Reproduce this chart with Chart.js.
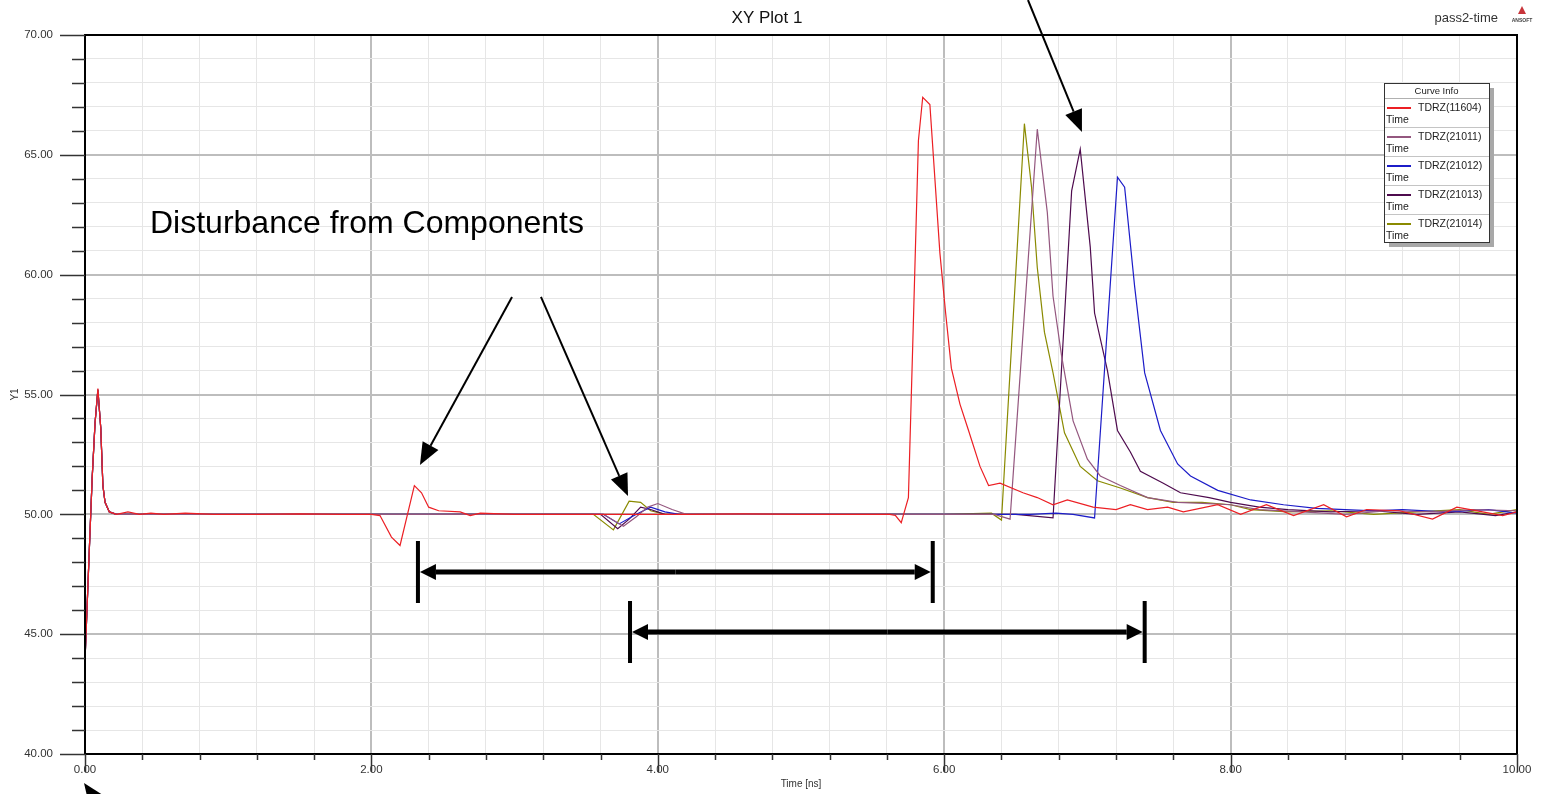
<!DOCTYPE html>
<html>
<head>
<meta charset="utf-8">
<title>XY Plot 1</title>
<script src="https://cdn.jsdelivr.net/npm/chart.js@4.4.1/dist/chart.umd.min.js"></script>
<style>
    html, body { margin: 0; padding: 0; background: #fff; }
    #wrap { position: relative; width: 1544px; height: 794px; }
</style>
</head>
<body>
<div id="wrap"><canvas id="myChart" width="1544" height="794"></canvas></div>
<script>
// curve names as in the "Curve Info" box
var curveNames = ['TDRZ(11604)', 'TDRZ(21011)', 'TDRZ(21012)', 'TDRZ(21013)', 'TDRZ(21014)'];
var curveColors = ['#ec1f24', '#94577f', '#1c1cc8', '#4e0b4e', '#8a8a00'];

// labelled ticks
var xLabelTicks = [0, 2, 4, 6, 8, 10];
var yLabelTicks = [40, 45, 50, 55, 60, 65, 70];

// TDRZ(11604) - red
var time11604 = [0, 0.03, 0.05, 0.07, 0.09, 0.11, 0.125, 0.14, 0.17, 0.22, 0.30, 0.38, 0.46, 0.55, 0.70, 0.90, 1.20, 1.50, 1.80, 2.00,
    2.06, 2.14, 2.20, 2.30, 2.35, 2.40, 2.47, 2.62, 2.69, 2.76, 3.00, 3.40, 3.80, 4.20, 4.60, 5.00, 5.30, 5.50, 5.62, 5.66,
    5.70, 5.75, 5.78, 5.82, 5.85, 5.90, 5.97, 6.01, 6.05, 6.11, 6.17, 6.25, 6.31, 6.39, 6.55, 6.65, 6.76, 6.86, 7.04, 7.20,
    7.30, 7.42, 7.56, 7.67, 7.91, 8.07, 8.25, 8.44, 8.65, 8.81, 8.95, 9.18, 9.41, 9.58, 9.76, 9.90, 10.00];
var tdrz11604 = [43.9, 48.5, 51.5, 53.8, 55.25, 53.6, 51.2, 50.5, 50.1, 50.0, 50.1, 50.0, 50.05, 50.0, 50.05, 50.0, 50.0, 50.02, 50.0, 50.0,
    49.95, 49.05, 48.7, 51.2, 50.9, 50.3, 50.15, 50.1, 49.95, 50.05, 50.0, 50.0, 50.0, 50.0, 50.02, 50.0, 50.0, 50.0, 50.0, 49.95,
    49.65, 50.7, 57.0, 65.6, 67.4, 67.1, 60.9, 58.4, 56.1, 54.6, 53.5, 52.0, 51.2, 51.3, 50.9, 50.7, 50.4, 50.6, 50.3, 50.2,
    50.4, 50.2, 50.3, 50.1, 50.4, 50.0, 50.4, 49.95, 50.4, 49.9, 50.2, 50.15, 49.8, 50.3, 50.1, 49.95, 50.1];

// TDRZ(21011) - mauve
var time21011 = [0, 0.03, 0.05, 0.07, 0.09, 0.11, 0.125, 0.14, 0.17, 0.22, 1.00, 2.00, 3.00, 3.62, 3.76, 3.85, 3.93, 4.00, 4.10, 4.20,
    5.00, 6.00, 6.35, 6.46, 6.65, 6.72, 6.76, 6.82, 6.90, 7.00, 7.09, 7.23, 7.42, 7.63, 7.85, 8.00, 8.20, 8.50, 8.80, 9.10,
    9.40, 9.70, 10.00];
var tdrz21011 = [43.9, 48.5, 51.5, 53.8, 55.2, 53.6, 51.2, 50.5, 50.1, 50.0, 50.0, 50.0, 50.0, 50.0, 49.5, 49.9, 50.3, 50.45, 50.2, 50.0,
    50.0, 50.0, 50.0, 49.8, 66.07, 62.6, 59.1, 56.6, 53.9, 52.3, 51.6, 51.2, 50.7, 50.5, 50.45, 50.4, 50.2, 50.1, 50.0, 50.15,
    50.1, 50.2, 50.15];

// TDRZ(21012) - blue
var time21012 = [0, 0.03, 0.05, 0.07, 0.09, 0.11, 0.125, 0.14, 0.17, 0.22, 1.00, 2.00, 3.00, 3.62, 3.73, 3.85, 3.95, 4.05, 4.15, 5.00,
    6.00, 6.60, 6.78, 6.90, 7.05, 7.21, 7.26, 7.33, 7.40, 7.51, 7.63, 7.72, 7.91, 8.14, 8.37, 8.60, 8.80, 9.00, 9.20, 9.50,
    9.80, 10.00];
var tdrz21012 = [43.9, 48.5, 51.5, 53.8, 55.2, 53.6, 51.2, 50.5, 50.1, 50.0, 50.0, 50.0, 50.0, 50.0, 49.6, 50.0, 50.3, 50.1, 50.0, 50.0,
    50.0, 50.0, 50.05, 50.0, 49.85, 64.07, 63.65, 59.5, 55.9, 53.5, 52.1, 51.6, 51.0, 50.6, 50.4, 50.25, 50.2, 50.15, 50.2, 50.1,
    50.2, 50.05];

// TDRZ(21013) - dark purple
var time21013 = [0, 0.03, 0.05, 0.07, 0.09, 0.11, 0.125, 0.14, 0.17, 0.22, 1.00, 2.00, 3.00, 3.60, 3.72, 3.80, 3.88, 3.95, 4.05, 5.00,
    6.00, 6.50, 6.76, 6.89, 6.95, 7.02, 7.05, 7.14, 7.21, 7.30, 7.37, 7.53, 7.65, 7.85, 8.00, 8.20, 8.40, 8.70, 9.00, 9.30,
    9.60, 9.85, 10.00];
var tdrz21013 = [43.9, 48.5, 51.5, 53.8, 55.2, 53.6, 51.2, 50.5, 50.1, 50.0, 50.0, 50.0, 50.0, 50.0, 49.4, 49.8, 50.3, 50.2, 50.0, 50.0,
    50.0, 50.0, 49.85, 63.5, 65.24, 61.15, 58.4, 56.0, 53.5, 52.6, 51.8, 51.3, 50.9, 50.7, 50.5, 50.3, 50.2, 50.1, 50.15, 50.0,
    50.1, 49.95, 50.1];

// TDRZ(21014) - olive
var time21014 = [0, 0.03, 0.05, 0.07, 0.09, 0.11, 0.125, 0.14, 0.17, 0.22, 1.00, 2.00, 3.00, 3.55, 3.69, 3.80, 3.88, 3.95, 4.05, 5.00,
    6.00, 6.33, 6.40, 6.56, 6.61, 6.65, 6.70, 6.76, 6.84, 6.95, 7.07, 7.23, 7.42, 7.60, 7.80, 8.00, 8.14, 8.40, 8.70, 9.00,
    9.30, 9.60, 9.80, 10.00];
var tdrz21014 = [43.9, 48.5, 51.5, 53.8, 55.2, 53.6, 51.2, 50.5, 50.1, 50.0, 50.0, 50.0, 50.0, 50.0, 49.35, 50.55, 50.5, 50.15, 50.0, 50.0,
    50.0, 50.05, 49.76, 66.3, 63.65, 60.3, 57.6, 55.9, 53.4, 52.0, 51.4, 51.1, 50.7, 50.5, 50.5, 50.4, 50.2, 50.1, 50.15, 50.0,
    50.1, 50.2, 50.0, 50.2];

var curveTimes = [time11604, time21011, time21012, time21013, time21014];
var curveValues = [tdrz11604, tdrz21011, tdrz21012, tdrz21013, tdrz21014];

// annotations, in data units (ns, Y1)
var noteText = 'Disturbance from Components';
var notePos = [0.454, 61.72];
var noteArrows = [
    [2.982, 59.07, 2.339, 52.06],
    [3.184, 59.07, 3.792, 50.76],
    [6.585, 71.46, 6.962, 65.95],
    [0.175, 37.25, -0.007, 38.79]
];
var noteSpans = [
    [2.325, 5.92, 47.59],
    [3.806, 7.40, 45.09]
];

var FONT = 'Arial, "Liberation Sans", sans-serif';

function isLabelled(list, v) {
    return list.some(function (t) { return Math.abs(t - v) < 1e-6; });
}

function toPoints(ts, vs) {
    return ts.map(function (t, i) { return { x: t, y: vs[i] }; });
}

function drawArrow(ctx, x1, y1, x2, y2, w, len, half) {
    var ang = Math.atan2(y2 - y1, x2 - x1);
    var bx = x2 - len * Math.cos(ang), by = y2 - len * Math.sin(ang);
    ctx.lineWidth = w;
    ctx.beginPath();
    ctx.moveTo(x1, y1);
    ctx.lineTo(bx, by);
    ctx.stroke();
    ctx.beginPath();
    ctx.moveTo(x2, y2);
    ctx.lineTo(bx + half * Math.sin(ang), by - half * Math.cos(ang));
    ctx.lineTo(bx - half * Math.sin(ang), by + half * Math.cos(ang));
    ctx.closePath();
    ctx.fill();
}

var decorations = {
    id: 'decorations',
    afterDraw: function (chart) {
        var ctx = chart.ctx, area = chart.chartArea;
        var xs = chart.scales.x, ys = chart.scales.y;
        ctx.save();

        // frame
        ctx.strokeStyle = '#000';
        ctx.lineWidth = 2;
        ctx.strokeRect(area.left, area.top, area.right - area.left, area.bottom - area.top);

        // tick marks
        ctx.strokeStyle = '#333';
        ctx.lineWidth = 1.5;
        ys.ticks.forEach(function (t) {
            var py = Math.round(ys.getPixelForValue(t.value)) + 0.5;
            var len = isLabelled(yLabelTicks, t.value) ? 25 : 13;
            ctx.beginPath();
            ctx.moveTo(area.left - len, py);
            ctx.lineTo(area.left, py);
            ctx.stroke();
        });
        xs.ticks.forEach(function (t) {
            var px = Math.round(xs.getPixelForValue(t.value)) + 0.5;
            var len = isLabelled(xLabelTicks, t.value) ? 18 : 6;
            ctx.beginPath();
            ctx.moveTo(px, area.bottom);
            ctx.lineTo(px, area.bottom + len);
            ctx.stroke();
        });

        // title and header texts
        ctx.fillStyle = '#111';
        ctx.textBaseline = 'middle';
        ctx.textAlign = 'center';
        ctx.font = '17px ' + FONT;
        ctx.fillText('XY Plot 1', 767, 18);
        ctx.textAlign = 'right';
        ctx.font = '13px ' + FONT;
        ctx.fillStyle = '#333';
        ctx.fillText('pass2-time', 1498, 18);

        // small logo
        ctx.fillStyle = '#c8343a';
        ctx.beginPath();
        ctx.moveTo(1522, 6);
        ctx.lineTo(1518, 14);
        ctx.lineTo(1526, 14);
        ctx.closePath();
        ctx.fill();
        ctx.fillStyle = '#444';
        ctx.textAlign = 'center';
        ctx.font = 'bold 5px ' + FONT;
        ctx.fillText('ANSOFT', 1522, 21);

        // Curve Info box
        var bx = 1384, by = 83, bw = 105, bh = 159;
        ctx.fillStyle = '#a8a8a8';
        ctx.fillRect(bx + 5, by + 5, bw, bh);
        ctx.fillStyle = '#fff';
        ctx.fillRect(bx, by, bw, bh);
        ctx.strokeStyle = '#333';
        ctx.lineWidth = 1;
        ctx.strokeRect(bx + 0.5, by + 0.5, bw, bh);
        ctx.fillStyle = '#222';
        ctx.font = '9.5px ' + FONT;
        ctx.textAlign = 'center';
        ctx.fillText('Curve Info', bx + bw / 2, by + 8);
        ctx.strokeStyle = '#b0b0b0';
        ctx.beginPath();
        ctx.moveTo(bx + 1, by + 15.5);
        ctx.lineTo(bx + bw, by + 15.5);
        ctx.stroke();
        chart.data.datasets.forEach(function (ds, i) {
            var ly = by + 25 + 29 * i;
            ctx.strokeStyle = ds.borderColor;
            ctx.lineWidth = 2;
            ctx.beginPath();
            ctx.moveTo(bx + 3, ly);
            ctx.lineTo(bx + 27, ly);
            ctx.stroke();
            ctx.fillStyle = '#222';
            ctx.textAlign = 'left';
            ctx.font = '10.5px ' + FONT;
            ctx.fillText(ds.label, bx + 34, ly);
            ctx.fillText('Time', bx + 2, ly + 12);
            if (i < chart.data.datasets.length - 1) {
                ctx.strokeStyle = '#c4c4c4';
                ctx.lineWidth = 1;
                ctx.beginPath();
                ctx.moveTo(bx + 1, ly + 19.5);
                ctx.lineTo(bx + bw, ly + 19.5);
                ctx.stroke();
            }
        });

        // annotation text
        ctx.fillStyle = '#000';
        ctx.textAlign = 'left';
        ctx.textBaseline = 'alphabetic';
        ctx.font = '32px ' + FONT;
        ctx.fillText(noteText, xs.getPixelForValue(notePos[0]), ys.getPixelForValue(notePos[1]));

        // annotation arrows
        ctx.strokeStyle = '#000';
        ctx.fillStyle = '#000';
        noteArrows.forEach(function (a) {
            drawArrow(ctx, xs.getPixelForValue(a[0]), ys.getPixelForValue(a[1]),
                xs.getPixelForValue(a[2]), ys.getPixelForValue(a[3]), 2, 22, 9);
        });

        // span brackets
        noteSpans.forEach(function (s) {
            var x1 = xs.getPixelForValue(s[0]), x2 = xs.getPixelForValue(s[1]), y = ys.getPixelForValue(s[2]);
            ctx.lineWidth = 4;
            ctx.beginPath();
            ctx.moveTo(x1, y - 31);
            ctx.lineTo(x1, y + 31);
            ctx.moveTo(x2, y - 31);
            ctx.lineTo(x2, y + 31);
            ctx.stroke();
            var mid = (x1 + x2) / 2;
            drawArrow(ctx, mid, y, x1 + 2, y, 5, 16, 8);
            drawArrow(ctx, mid, y, x2 - 2, y, 5, 16, 8);
        });

        ctx.restore();
    }
};

var datasets = curveNames.map(function (name, i) {
    return {
        label: name,
        data: toPoints(curveTimes[i], curveValues[i]),
        borderColor: curveColors[i],
        backgroundColor: curveColors[i],
        borderWidth: 1.2,
        pointRadius: 0,
        tension: 0,
        fill: false
    };
});

var ctx = document.getElementById('myChart').getContext('2d');
var myChart = new Chart(ctx, {
    type: 'line',
    data: { datasets: datasets },
    options: {
        responsive: false,
        animation: false,
        devicePixelRatio: 1,
        layout: { padding: { top: 35, right: 27, bottom: 0, left: 0 } },
        plugins: {
            legend: { display: false },
            title: { display: false },
            tooltip: { enabled: false }
        },
        scales: {
            x: {
                type: 'linear',
                min: 0,
                max: 10,
                afterFit: function (scale) { scale.height = 40; },
                border: { display: false },
                grid: {
                    drawTicks: false,
                    color: function (c) { return isLabelled(xLabelTicks, c.tick.value) ? '#bdbdbd' : '#e6e6e6'; },
                    lineWidth: function (c) { return isLabelled(xLabelTicks, c.tick.value) ? 2 : 1; }
                },
                ticks: {
                    stepSize: 0.4,
                    autoSkip: false,
                    maxRotation: 0,
                    padding: 9,
                    color: '#333',
                    font: { family: FONT, size: 11.5 },
                    callback: function (v) { return isLabelled(xLabelTicks, v) ? Number(v).toFixed(2) : ''; }
                },
                title: {
                    display: true,
                    text: 'Time [ns]',
                    color: '#333',
                    font: { family: FONT, size: 10 },
                    padding: { top: 0, bottom: 4 }
                }
            },
            y: {
                min: 40,
                max: 70,
                afterFit: function (scale) { scale.width = 85; },
                border: { display: false },
                grid: {
                    drawTicks: true,
                    tickLength: 30,
                    tickColor: 'rgba(0,0,0,0)',
                    color: function (c) { return isLabelled(yLabelTicks, c.tick.value) ? '#bdbdbd' : '#e6e6e6'; },
                    lineWidth: function (c) { return isLabelled(yLabelTicks, c.tick.value) ? 2 : 1; }
                },
                ticks: {
                    stepSize: 1,
                    autoSkip: false,
                    padding: 2,
                    color: '#333',
                    font: { family: FONT, size: 11.5 },
                    callback: function (v) { return isLabelled(yLabelTicks, v) ? Number(v).toFixed(2) : ''; }
                },
                title: {
                    display: true,
                    text: 'Y1',
                    color: '#333',
                    font: { family: FONT, size: 10 },
                    padding: { top: 9, bottom: 0 }
                }
            }
        }
    },
    plugins: [decorations]
});
</script>
</body>
</html>
